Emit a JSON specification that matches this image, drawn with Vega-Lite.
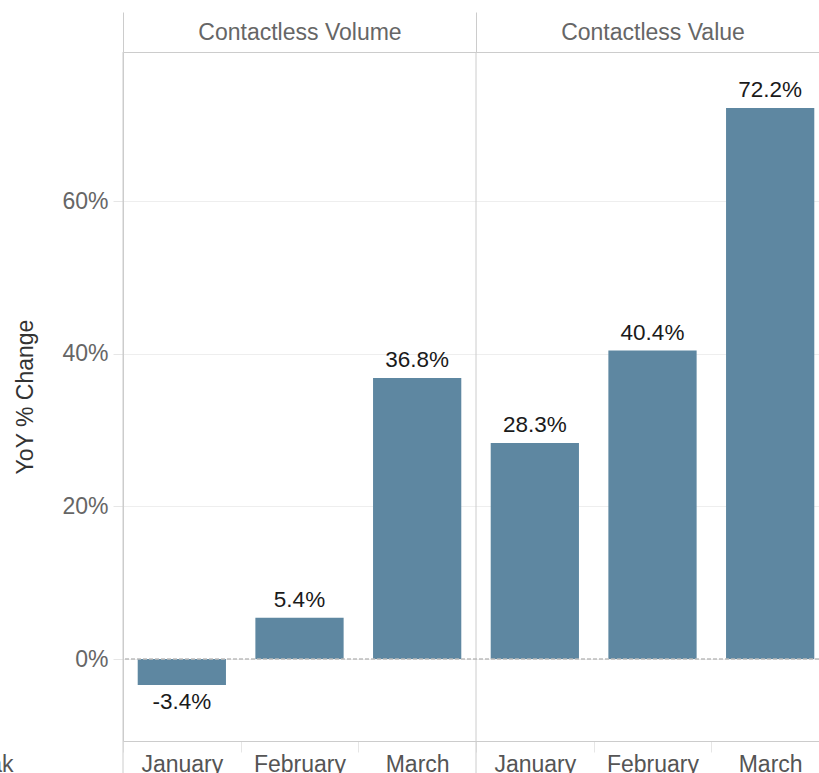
{
  "$schema": "https://vega.github.io/schema/vega-lite/v6.json",
  "width": 696,
  "height": 689,
  "autosize": {"type": "none"},
  "padding": {"left": 123, "top": 52, "right": 0, "bottom": 32},
  "config": {"view": {"stroke": null}, "font": "Liberation Sans"},
  "datasets": {
    "bars": [
      {"measure": "Contactless Volume", "month": "January", "key": "Volume|January", "value": -0.034},
      {"measure": "Contactless Volume", "month": "February", "key": "Volume|February", "value": 0.054},
      {"measure": "Contactless Volume", "month": "March", "key": "Volume|March", "value": 0.368},
      {"measure": "Contactless Value", "month": "January", "key": "Value|January", "value": 0.283},
      {"measure": "Contactless Value", "month": "February", "key": "Value|February", "value": 0.404},
      {"measure": "Contactless Value", "month": "March", "key": "Value|March", "value": 0.722}
    ],
    "measures": [
      {"measure": "Contactless Volume"},
      {"measure": "Contactless Value"}
    ]
  },
  "resolve": {"scale": {"x": "independent"}, "axis": {"x": "independent"}},
  "layer": [
    {
      "data": {"name": "bars"},
      "encoding": {
        "x": {
          "field": "key",
          "type": "nominal",
          "sort": ["Volume|January", "Volume|February", "Volume|March", "Value|January", "Value|February", "Value|March"],
          "scale": {"paddingInner": 0.25, "paddingOuter": 0.125, "range": [0, 706]},
          "axis": {
            "labelExpr": "split(datum.value, '|')[1]",
            "labelAngle": 0,
            "labelFontSize": 23,
            "labelColor": "#555555",
            "labelPadding": 1,
            "labelBaseline": "top",
            "tickOffset": -58.83,
            "labelOffset": 58.83,
            "tickColor": "#e6e6e6",
            "tickSize": 11,
            "domainColor": "#cccccc",
            "title": "ak",
            "titleX": -110,
            "titleY": 30,
            "titleAlign": "right",
            "titleBaseline": "alphabetic",
            "titleFontSize": 23,
            "titleFontWeight": "normal",
            "titleColor": "#555555"
          }
        },
        "y": {
          "field": "value",
          "type": "quantitative",
          "scale": {"domain": [-0.1074, 0.7952], "nice": false, "zero": false},
          "axis": {
            "values": [0, 0.2, 0.4, 0.6],
            "format": ".0%",
            "title": "YoY % Change",
            "grid": true,
            "gridColor": "#eeeeee",
            "tickColor": "#e6e6e6",
            "tickSize": 10,
            "domainColor": "#cccccc",
            "labelFontSize": 23,
            "labelColor": "#666666",
            "labelPadding": 5,
            "titleFontSize": 23,
            "titleFontWeight": "normal",
            "titleColor": "#333333",
            "titlePadding": 24
          }
        }
      },
      "layer": [
        {"mark": {"type": "bar", "color": "#5e87a1"}},
        {
          "transform": [{"filter": "datum.value >= 0"}],
          "mark": {"type": "text", "baseline": "alphabetic", "dy": -11, "fontSize": 22.5, "color": "#1a1a1a", "text": {"expr": "replace(format(datum.value, '.1%'), '\u2212', '-')"}}
        },
        {
          "transform": [{"filter": "datum.value < 0"}],
          "mark": {"type": "text", "baseline": "alphabetic", "dy": 24, "fontSize": 22.5, "color": "#1a1a1a", "text": {"expr": "replace(format(datum.value, '.1%'), '\u2212', '-')"}}
        }
      ]
    },
    {
      "data": {"name": "measures"},
      "mark": {"type": "rule", "color": "#cccccc", "strokeWidth": 1},
      "encoding": {
        "x": {
          "field": "measure",
          "type": "nominal",
          "sort": ["Contactless Volume", "Contactless Value"],
          "bandPosition": 0,
          "scale": {"paddingInner": 0, "paddingOuter": 0, "range": [0, 706]},
          "axis": {
            "orient": "top",
            "title": null,
            "labelAngle": 0,
            "labelLimit": 500,
            "tickBand": "extent",
            "tickSize": 40,
            "tickColor": "#cccccc",
            "domainColor": "#cccccc",
            "labelFontSize": 23,
            "labelColor": "#666666",
            "labelBaseline": "middle",
            "labelPadding": -20
          }
        },
        "y": {"datum": 0.7952, "type": "quantitative"},
        "y2": {"datum": -0.3}
      }
    },
    {
      "data": {"name": "measures"},
      "mark": {"type": "rule", "color": "#bbbbbb", "strokeDash": [4, 2], "strokeWidth": 1},
      "encoding": {"y": {"datum": 0, "type": "quantitative"}}
    }
  ]
}
